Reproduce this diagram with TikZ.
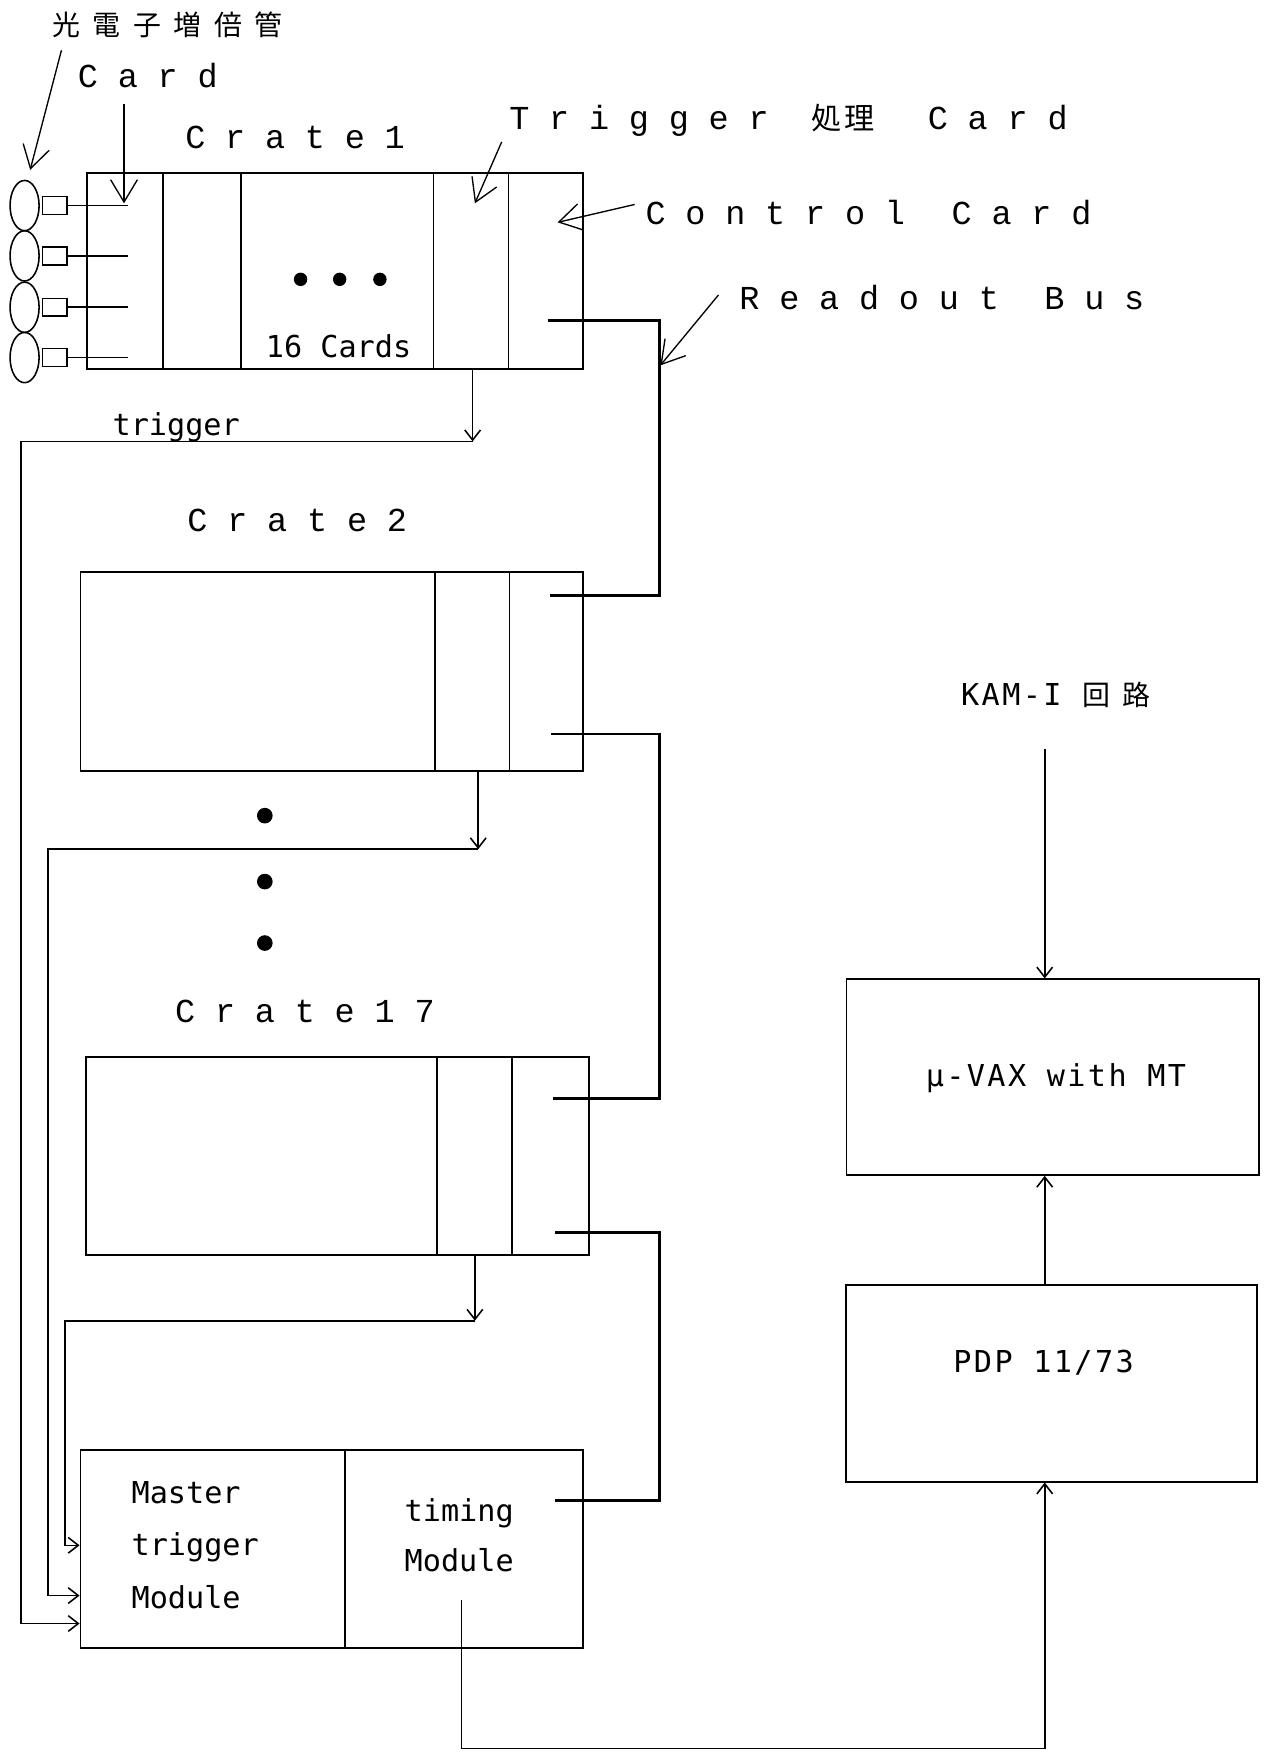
\documentclass[tikz,border=0pt]{standalone}
\usepackage{fontspec}
\usetikzlibrary{arrows.meta,shapes.geometric}
\newfontfamily\spacedfont[LetterSpace=59]{Liberation Mono}
\newfontfamily\plotfont{DejaVu Sans Mono}
\newfontfamily\plotwidefont[LetterSpace=8]{DejaVu Sans Mono}
\newfontfamily\cjkfont[LetterSpace=45]{Noto Sans CJK JP}
\newfontfamily\cjktightfont[LetterSpace=10]{Noto Sans CJK JP}

\begin{document}
\begin{tikzpicture}
  [x=0.5pt, y=-0.5pt, line width=0.8pt,
   cratebox/.style={draw, rectangle, inner sep=0pt, minimum width=225pt, minimum height=88.5pt},
   compbox/.style={draw, rectangle, inner sep=0pt, minimum width=184.5pt, minimum height=87.5pt},
   pmt/.style={draw, ellipse, inner sep=0pt, minimum width=13pt, minimum height=22.5pt, line width=0.7pt},
   pmtbase/.style={draw, rectangle, inner sep=0pt, minimum width=11pt, minimum height=8pt, line width=0.7pt},
   blob/.style={circle, fill, inner sep=0pt, minimum size=6pt},
   spaced/.style={inner sep=0pt, font=\spacedfont\fontsize{15}{18}\selectfont},
   plot/.style={inner sep=0pt, font=\plotfont\fontsize{13.5}{23.5}\selectfont},
   plotwide/.style={inner sep=0pt, font=\plotwidefont\fontsize{13.5}{16}\selectfont},
   cjklabel/.style={inner sep=0pt, font=\cjkfont\fontsize{12.5}{14}\selectfont},
   callout/.style={line width=0.6pt, -{Straight Barb[length=10pt,width=12pt]}},
   trig/.style={line width=0.7pt},
   bus/.style={line width=1.2pt},
   tip/.style={-{Straight Barb[length=4.5pt,width=7pt]}}]

  \useasboundingbox (0,0) rectangle (1133,1568);

  % crates
  \node[cratebox, minimum width=222pt, minimum height=87.5pt] (crate1) at (300,242.5) {};
  \node[cratebox, minimum height=89pt] (crate2) at (297,601) {};
  \node[cratebox] (crate17) at (302,1034.5) {};
  \node[cratebox] (master) at (297,1386.5) {};
  \foreach \x in {146,216,388,455}
    \draw (\x,0 |- crate1.north) -- (\x,0 |- crate1.south);
  \foreach \x in {389,456}
    \draw (\x,0 |- crate2.north) -- (\x,0 |- crate2.south);
  \foreach \x in {391,458}
    \draw (\x,0 |- crate17.north) -- (\x,0 |- crate17.south);
  \draw (309,0 |- master.north) -- (309,0 |- master.south);

  % photomultipliers
  \foreach \n/\y in {1/184,2/229,3/275,4/320} {
    \node[pmt] (pmt\n) at (22,\y) {};
    \node[pmtbase] (sock\n) at (49,\y) {};
    \coordinate (pin\n) at (115,\y);
    \draw[line width=0.7pt] (sock\n.east) -- (pin\n);
  }

  % crate 1 contents
  \foreach \x [count=\i] in {269,304,340}
    \node[blob] (hdot\i) at (\x,250) {};
  \node[plot] (lbl16) at (303,310) {16 Cards};
  \foreach \y [count=\i] in {730,789,844}
    \node[blob, minimum size=7pt] (vdot\i) at (237,\y) {};

  % computers
  \node[compbox] (vax) at (942,964) {};
  \node[plotwide] (lblvax) at (945,965) {μ-VAX with MT};
  \node[compbox, minimum width=184pt, minimum height=88pt] (pdp) at (941,1238) {};
  \node[plotwide] (lblpdp) at (934,1220) {PDP 11/73};

  % labels
  \node[cjklabel, anchor=west] (lblpmt) at (46,22) {光電子増倍管};
  \node[spaced, anchor=base west] (lblcard) at (69,78) {Card};
  \node[spaced, anchor=base west] (lblcrate1) at (165,133) {Crate1};
  \node[spaced, anchor=base west] (lbltrigcard) at (455,116)
    {Trigger\hspace{19pt}{\cjktightfont\fontsize{13.5}{16}\selectfont 処理}\hspace{6pt} Card};
  \node[spaced, anchor=base west] (lblcontrol) at (577,201) {Control\hspace{3pt} Card};
  \node[spaced, anchor=base west] (lblreadout) at (661,277) {Readout\hspace{2.5pt} Bus};
  \node[spaced, anchor=base west] (lblcrate2) at (167,476) {Crate2};
  \node[spaced, anchor=base west] (lblcrate17) at (156,915) {Crate17};
  \node[plot, anchor=base west] (lbltrig) at (100,390) {trigger};
  \node[plot, align=left, anchor=north west] (lblmaster) at (117,1325) {Master\\trigger\\Module};
  \node[plot, align=center, anchor=north, font=\plotfont\fontsize{13.5}{22.5}\selectfont]
    (lbltiming) at (411,1340) {timing\\Module};
  \node[plotwide] (lblkam) at (945,622) {KAM-I {\cjkfont\fontsize{12.5}{14}\selectfont 回路}};

  % callouts
  \coordinate (pmtfrom) at (55,45);   \coordinate (pmtto) at (27,152);
  \coordinate (cardfrom) at (111,93); \coordinate (cardto) at (111,182);
  \coordinate (tcfrom) at (449,127);  \coordinate (tcto) at (425,182);
  \coordinate (ccfrom) at (568,183);  \coordinate (ccto) at (499,199);
  \coordinate (rbfrom) at (643,264);  \coordinate (rbto) at (591,327);
  \foreach \a/\b in {pmtfrom/pmtto,cardfrom/cardto,tcfrom/tcto,ccfrom/ccto,rbfrom/rbto}
    \draw[callout] (\a) -- (\b);

  % readout bus
  \coordinate (c1out) at (490,287);
  \coordinate (c2in) at (492,533);   \coordinate (c2out) at (493,657);
  \coordinate (c17in) at (495,983);  \coordinate (c17out) at (497,1103);
  \coordinate (tin) at (497,1343);
  \foreach \a/\b in {c1out/c2in,c2out/c17in,c17out/tin}
    \draw[bus] (\a) -- (590,0 |- \a) -- (590,0 |- \b) -- (\b);

  % trigger lines
  \foreach \c/\x/\y/\l/\m in {crate1/423/395/19/1453,crate2/428/760/43/1428,crate17/425/1182/58/1383} {
    \coordinate (j\c) at (\x,\y);
    \coordinate (m\c) at (master.west |- 0,\m);
    \draw[trig, tip] (\x,0 |- \c.south) -- (j\c);
    \draw[trig, tip] (j\c) -- (\l,0 |- j\c) -- (\l,0 |- m\c) -- (m\c);
  }

  % timing to computers
  \coordinate (tout) at (413,1432);
  \coordinate (kamin) at (935,670);
  \draw[trig, tip] (tout) -- (413,1565) -- (935,1565) -- (935,0 |- pdp.south);
  \draw[trig, tip] (935,0 |- pdp.north) -- (935,0 |- vax.south);
  \draw[trig, tip] (kamin) -- (935,0 |- vax.north);
\end{tikzpicture}
\end{document}
